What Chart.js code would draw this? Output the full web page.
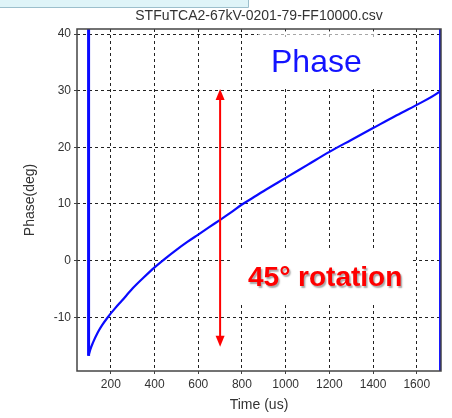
<!DOCTYPE html>
<html>
<head>
  <title>Phase vs Time</title>
  <script src="https://cdn.jsdelivr.net/npm/chart.js"></script>
  <style>
    body { margin: 0; background: #fff; }
    canvas { display: block; }
  </style>
</head>
<body>
  <canvas id="phaseChart" width="452" height="418"></canvas>

  <script>
    // measured phase curve (time in us, phase in deg)
    const timeUs = [98, 105, 118, 140, 160, 186, 220, 250, 300, 350, 400, 450, 500, 550, 600,
                    650, 700, 750, 800, 850, 900, 1000, 1100, 1200, 1300, 1400, 1500, 1600, 1700, 1709];
    const phaseDeg = [-16.8, -15.8, -14.5, -12.7, -11.4, -10.0, -8.4, -7.1, -4.9, -3.0, -1.2, 0.4, 1.9, 3.3, 4.6,
                      5.9, 7.2, 8.5, 9.9, 11.1, 12.3, 14.6, 16.9, 19.2, 21.3, 23.4, 25.5, 27.5, 29.7, 30.0];

    // vertical jumps at the start and end of the record
    const startEdgeTime = 98;
    const startEdgePhase = [42, -16.8];
    const endEdgeTime = 1709;
    const endEdgePhase = [42, -21];

    // axis ticks
    const xTicks = [200, 400, 600, 800, 1000, 1200, 1400, 1600];
    const yTicks = [-10, 0, 10, 20, 30, 40];

    // rotation marker
    const arrowTime = 700;
    const arrowFrom = -15.2;
    const arrowTo = 30.3;

    const titleText = 'STFuTCA2-67kV-0201-79-FF10000.csv';

    const curve = timeUs.map((t, i) => ({ x: t, y: phaseDeg[i] }));
    const startEdge = startEdgePhase.map(p => ({ x: startEdgeTime, y: p }));
    const endEdge = endEdgePhase.map(p => ({ x: endEdgeTime, y: p }));

    function arrowHead(ctx, x, y, dir) {
      ctx.beginPath();
      ctx.moveTo(x, y);
      ctx.lineTo(x - 4.5, y + dir * 11);
      ctx.lineTo(x + 4.5, y + dir * 11);
      ctx.closePath();
      ctx.fill();
    }

    const overlay = {
      id: 'overlay',
      beforeDraw(chart) {
        const ctx = chart.ctx;
        ctx.save();
        // window strip in the corner
        ctx.fillStyle = '#dff4f8';
        ctx.fillRect(0, 0, 248, 7);
        ctx.strokeStyle = '#9cbfcc';
        ctx.lineWidth = 1;
        ctx.beginPath();
        ctx.moveTo(0, 7.5);
        ctx.lineTo(248.5, 7.5);
        ctx.lineTo(248.5, 0);
        ctx.stroke();
        // file name
        const area = chart.chartArea;
        ctx.fillStyle = '#333';
        ctx.font = '14px "Liberation Sans", Arial, sans-serif';
        ctx.textAlign = 'center';
        ctx.textBaseline = 'middle';
        ctx.fillText(titleText, (area.left + area.right) / 2, 16);
        ctx.restore();
      },
      beforeDatasetsDraw(chart) {
        const ctx = chart.ctx;
        ctx.save();
        // label backgrounds cover the grid
        ctx.fillStyle = 'rgba(255,255,255,0.6)';
        ctx.fillRect(258, 31, 120, 6);
        ctx.fillStyle = '#fff';
        ctx.fillRect(258, 37, 120, 49);
        ctx.fillRect(233, 251, 177, 51);
        ctx.restore();
      },
      afterDatasetsDraw(chart) {
        const ctx = chart.ctx;
        const area = chart.chartArea;
        const xs = chart.scales.x, ys = chart.scales.y;
        ctx.save();
        // plot frame
        ctx.strokeStyle = '#444';
        ctx.lineWidth = 1.5;
        ctx.strokeRect(area.left, area.top, area.right - area.left, area.bottom - area.top);

        // double arrow
        const ax = xs.getPixelForValue(arrowTime);
        const yTop = ys.getPixelForValue(arrowTo);
        const yBot = ys.getPixelForValue(arrowFrom);
        ctx.strokeStyle = '#ff0000';
        ctx.fillStyle = '#ff0000';
        ctx.lineWidth = 2;
        ctx.beginPath();
        ctx.moveTo(ax, yTop + 8);
        ctx.lineTo(ax, yBot - 8);
        ctx.stroke();
        arrowHead(ctx, ax, yTop, 1);
        arrowHead(ctx, ax, yBot, -1);

        // labels
        ctx.fillStyle = '#1414ff';
        ctx.font = '32px "Liberation Sans", Arial, sans-serif';
        ctx.textAlign = 'left';
        ctx.textBaseline = 'alphabetic';
        ctx.fillText('Phase', 271, 72);

        ctx.shadowColor = 'rgba(0,0,0,0.35)';
        ctx.shadowOffsetX = 1.5;
        ctx.shadowOffsetY = 1.5;
        ctx.shadowBlur = 1.5;
        ctx.fillStyle = '#ff0000';
        ctx.font = 'bold 28px "Liberation Sans", Arial, sans-serif';
        ctx.fillText('45° rotation', 248, 286);
        ctx.restore();
      }
    };

    const tickFont = { family: '"Liberation Sans", Arial, sans-serif', size: 12 };
    const titleFont = { family: '"Liberation Sans", Arial, sans-serif', size: 14 };
    const gridStyle = {
      color: '#222',
      lineWidth: 1,
      tickLength: 3,
      tickColor: '#444',
      tickBorderDash: []
    };
    // dash pattern of the grid lines lives on the border options in v4
    const borderStyle = { display: false, dash: [3, 3] };

    new Chart(document.getElementById('phaseChart'), {
      type: 'line',
      data: {
        datasets: [
          { data: startEdge, borderColor: '#0a0aff', borderWidth: 3, pointRadius: 0 },
          { data: curve, borderColor: '#0a0aff', borderWidth: 2.2, pointRadius: 0, cubicInterpolationMode: 'monotone' },
          { data: endEdge, borderColor: '#0a0aff', borderWidth: 3, pointRadius: 0 }
        ]
      },
      options: {
        responsive: false,
        animation: false,
        layout: { padding: { top: 29, right: 11, left: 0, bottom: 0 } },
        plugins: { legend: { display: false }, tooltip: { enabled: false } },
        scales: {
          x: {
            type: 'linear',
            min: 45,
            max: 1711,
            afterBuildTicks: s => { s.ticks = xTicks.map(v => ({ value: v })); },
            afterFit: s => { s.height = 47; },
            border: borderStyle,
            grid: gridStyle,
            ticks: { font: tickFont, color: '#333', padding: 3, maxRotation: 0, callback: v => String(v) },
            title: { display: true, text: 'Time (us)', font: titleFont, color: '#333', padding: { top: 0, bottom: 4 } }
          },
          y: {
            min: -19.5,
            max: 40.9,
            afterBuildTicks: s => { s.ticks = yTicks.map(v => ({ value: v })); },
            afterFit: s => { s.width = 77; },
            border: borderStyle,
            grid: gridStyle,
            ticks: { font: tickFont, color: '#333', padding: 3, callback: v => String(v) },
            title: { display: true, text: 'Phase(deg)', font: titleFont, color: '#333', padding: { top: 22, bottom: 0 } }
          }
        }
      },
      plugins: [overlay]
    });
  </script>
</body>
</html>
